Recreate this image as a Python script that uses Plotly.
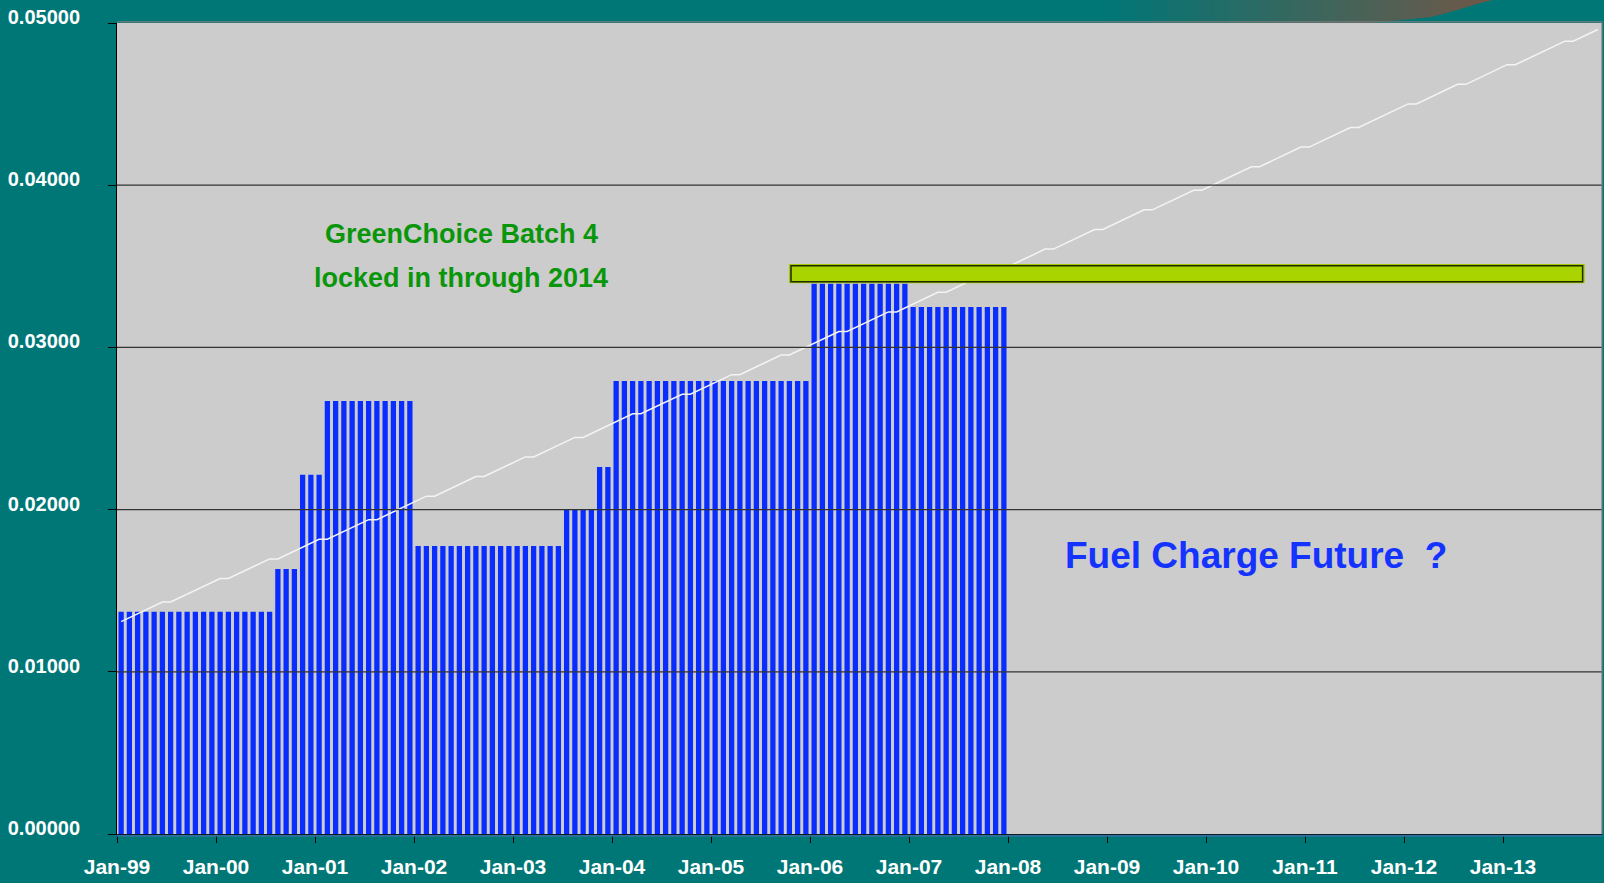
import numpy as np
import plotly.graph_objects as go

# ---------------- data ----------------
year_labels = ["Jan-99", "Jan-00", "Jan-01", "Jan-02", "Jan-03", "Jan-04", "Jan-05",
               "Jan-06", "Jan-07", "Jan-08", "Jan-09", "Jan-10", "Jan-11", "Jan-12", "Jan-13"]
n_months = 180  # Jan-99 .. Dec-13

# monthly fuel charge ($/kWh), Jan-99 .. Dec-07
fuel_charge = [
    0.01370, 0.01370, 0.01370, 0.01370, 0.01370, 0.01370, 0.01370, 0.01370, 0.01370, 0.01370, 0.01370, 0.01370,
    0.01370, 0.01370, 0.01370, 0.01370, 0.01370, 0.01370, 0.01370, 0.01634, 0.01634, 0.01634, 0.02215, 0.02215,
    0.02215, 0.02670, 0.02670, 0.02670, 0.02670, 0.02670, 0.02670, 0.02670, 0.02670, 0.02670, 0.02670, 0.02670,
    0.01776, 0.01776, 0.01776, 0.01776, 0.01776, 0.01776, 0.01776, 0.01776, 0.01776, 0.01776, 0.01776, 0.01776,
    0.01776, 0.01776, 0.01776, 0.01776, 0.01776, 0.01776, 0.01998, 0.01998, 0.01998, 0.01998, 0.02262, 0.02262,
    0.02793, 0.02793, 0.02793, 0.02793, 0.02793, 0.02793, 0.02793, 0.02793, 0.02793, 0.02793, 0.02793, 0.02793,
    0.02793, 0.02793, 0.02793, 0.02793, 0.02793, 0.02793, 0.02793, 0.02793, 0.02793, 0.02793, 0.02793, 0.02793,
    0.03393, 0.03393, 0.03393, 0.03393, 0.03393, 0.03393, 0.03393, 0.03393, 0.03393, 0.03393, 0.03393, 0.03393,
    0.03249, 0.03249, 0.03249, 0.03249, 0.03249, 0.03249, 0.03249, 0.03249, 0.03249, 0.03249, 0.03249, 0.03249,
]

# white trend line, Jan-99 .. Dec-13
trend = [
    0.01309, 0.01333, 0.01357, 0.01382, 0.01406, 0.01430, 0.01430, 0.01454, 0.01478, 0.01502, 0.01527, 0.01551,
    0.01575, 0.01575, 0.01599, 0.01623, 0.01648, 0.01672, 0.01696, 0.01696, 0.01720, 0.01744, 0.01768, 0.01793,
    0.01817, 0.01817, 0.01841, 0.01865, 0.01889, 0.01914, 0.01938, 0.01938, 0.01962, 0.01986, 0.02010, 0.02034,
    0.02059, 0.02083, 0.02083, 0.02107, 0.02131, 0.02155, 0.02179, 0.02204, 0.02204, 0.02228, 0.02252, 0.02276,
    0.02300, 0.02325, 0.02325, 0.02349, 0.02373, 0.02397, 0.02421, 0.02445, 0.02445, 0.02470, 0.02494, 0.02518,
    0.02542, 0.02566, 0.02591, 0.02591, 0.02615, 0.02639, 0.02663, 0.02687, 0.02711, 0.02711, 0.02736, 0.02760,
    0.02784, 0.02808, 0.02832, 0.02832, 0.02857, 0.02881, 0.02905, 0.02929, 0.02953, 0.02953, 0.02977, 0.03002,
    0.03026, 0.03050, 0.03074, 0.03098, 0.03098, 0.03123, 0.03147, 0.03171, 0.03195, 0.03219, 0.03219, 0.03243,
    0.03268, 0.03292, 0.03316, 0.03340, 0.03340, 0.03364, 0.03388, 0.03413, 0.03437, 0.03461, 0.03461, 0.03485,
    0.03509, 0.03534, 0.03558, 0.03582, 0.03606, 0.03606, 0.03630, 0.03654, 0.03679, 0.03703, 0.03727, 0.03727,
    0.03751, 0.03775, 0.03800, 0.03824, 0.03848, 0.03848, 0.03872, 0.03896, 0.03920, 0.03945, 0.03969, 0.03969,
    0.03993, 0.04017, 0.04041, 0.04066, 0.04090, 0.04114, 0.04114, 0.04138, 0.04162, 0.04186, 0.04211, 0.04235,
    0.04235, 0.04259, 0.04283, 0.04307, 0.04332, 0.04356, 0.04356, 0.04380, 0.04404, 0.04428, 0.04452, 0.04477,
    0.04501, 0.04501, 0.04525, 0.04549, 0.04573, 0.04597, 0.04622, 0.04622, 0.04646, 0.04670, 0.04694, 0.04718,
    0.04743, 0.04743, 0.04767, 0.04791, 0.04815, 0.04839, 0.04863, 0.04888, 0.04888, 0.04912, 0.04936, 0.04960,
]

# GreenChoice Batch 4 locked price band (month positions, $/kWh)
green_start, green_end = 81.45, 177.9
green_low, green_high = 0.03395, 0.03514

y_ticks = [0.0, 0.01, 0.02, 0.03, 0.04, 0.05]

# ---------------- figure ----------------
W, H = 1604, 883
ML, MR, MT, MB = 117, 2, 23, 49
PW, PH = W - ML - MR, H - MT - MB

TEAL = "#007777"
FONT = "Liberation Sans"

x_bar = np.arange(len(fuel_charge)) + 0.5
x_trend = np.arange(len(trend)) + 0.5

fig = go.Figure()
fig.add_trace(go.Bar(x=x_bar, y=fuel_charge, width=0.64,
                     marker=dict(color="#0A2DFF", line=dict(width=0)),
                     hoverinfo="skip"))
fig.add_trace(go.Scatter(x=x_trend, y=trend, mode="lines",
                         line=dict(color="#F4F4F4", width=1.5), hoverinfo="skip"))


def px_to_paper(X, Y):
    return (X - ML) / PW, (H - MB - Y) / PH


shapes = []

# decorative swoosh at the top of the slide (gradient approximated by slices)
def swoosh_bottom(X):
    if X <= 1350:
        return 23.0
    if X <= 1433:
        return min(23.0, 25 - 8 * (X - 1350) / 83)
    return max(0.0, 17 - 17 * (X - 1433) / 57)

c0 = np.array([0, 119, 119])
c1 = np.array([112, 88, 72])
edges = np.linspace(1105, 1492, 26)
for k in range(len(edges) - 1):
    xa, xb = edges[k], edges[k + 1]
    t = ((xa + xb) / 2 - 1105) / (1492 - 1105)
    col = c0 + (c1 - c0) * t
    pts = [(xa, 0), (xb + 0.6, 0), (xb + 0.6, swoosh_bottom(xb)), (xa, swoosh_bottom(xa))]
    pp = [px_to_paper(a, b) for a, b in pts]
    path = "M " + " L ".join(f"{a:.5f},{b:.5f}" for a, b in pp) + " Z"
    shapes.append(dict(type="path", xref="paper", yref="paper", path=path,
                       fillcolor=f"rgb({int(col[0])},{int(col[1])},{int(col[2])})",
                       line=dict(width=0), layer="below"))

# gridlines drawn above the bars (as in the reference)
for v in y_ticks[1:-1]:
    shapes.append(dict(type="line", xref="x", yref="y", x0=0, x1=n_months, y0=v, y1=v,
                       line=dict(color="#333333", width=1.2), layer="above"))

# plot-area top / right border
shapes.append(dict(type="line", xref="paper", yref="paper", x0=0, x1=1, y0=1.0015, y1=1.0015,
                   line=dict(color="#7a7a7a", width=1.2)))
shapes.append(dict(type="line", xref="paper", yref="paper", x0=1, x1=1, y0=0, y1=1.0015,
                   line=dict(color="#7a7a7a", width=1.2)))
# bluish strip below the category axis
bx0, by = px_to_paper(ML, 835.8)
shapes.append(dict(type="line", xref="paper", yref="paper", x0=0, x1=1, y0=by, y1=by,
                   line=dict(color="#2f6f9c", width=2)))

# GreenChoice locked band
shapes.append(dict(type="rect", xref="x", yref="y", x0=green_start, x1=green_end,
                   y0=green_low, y1=green_high, fillcolor="#A3C800",
                   line=dict(width=0), layer="above"))
shapes.append(dict(type="rect", xref="x", yref="y", x0=green_start + 0.25, x1=green_end - 0.25,
                   y0=green_low + 0.0001, y1=green_high - 0.0001, fillcolor="#AAD400",
                   line=dict(color="#1f2a00", width=1.5), layer="above"))

annotations = [
    dict(x=41.7, y=0.0370, xref="x", yref="y", text="GreenChoice Batch 4", showarrow=False,
         font=dict(family=FONT, size=27, color="#0A960A", weight="bold")),
    dict(x=41.7, y=0.0343, xref="x", yref="y", text="locked in through 2014", showarrow=False,
         font=dict(family=FONT, size=27, color="#0A960A", weight="bold")),
    dict(x=138.0, y=0.0172, xref="x", yref="y", text="Fuel Charge Future \u00a0?", showarrow=False,
         font=dict(family=FONT, size=37, color="#1433FF", weight="bold")),
]

fig.update_layout(
    width=W, height=H,
    margin=dict(l=ML, r=MR, t=MT, b=MB, pad=0),
    paper_bgcolor=TEAL, plot_bgcolor="#CCCCCC",
    showlegend=False, bargap=0.3,
    shapes=shapes, annotations=annotations,
    xaxis=dict(range=[0, n_months], tickmode="array",
               tickvals=[12 * i for i in range(len(year_labels))], ticktext=year_labels,
               ticks="outside", ticklen=8, tickwidth=1, tickcolor="black",
               showline=True, linecolor="black", linewidth=1, mirror=False,
               showgrid=False, zeroline=False, automargin=False,
               ticklabelstandoff=6,
               tickfont=dict(family=FONT, size=21, color="white", weight="bold")),
    yaxis=dict(range=[0, 0.05], tickmode="array", tickvals=y_ticks, tickformat=".5f",
               ticks="outside", ticklen=8, tickwidth=1, tickcolor="black",
               showline=True, linecolor="black", linewidth=1,
               showgrid=False, zeroline=False, automargin=False,
               ticklabelstandoff=24, ticklabelshift=-6,
               tickfont=dict(family=FONT, size=20, color="white", weight="bold")),
)

fig.write_html("out.html", config={"displayModeBar": False},
               post_script="document.body.style.margin='0';document.body.style.overflow='hidden';")
